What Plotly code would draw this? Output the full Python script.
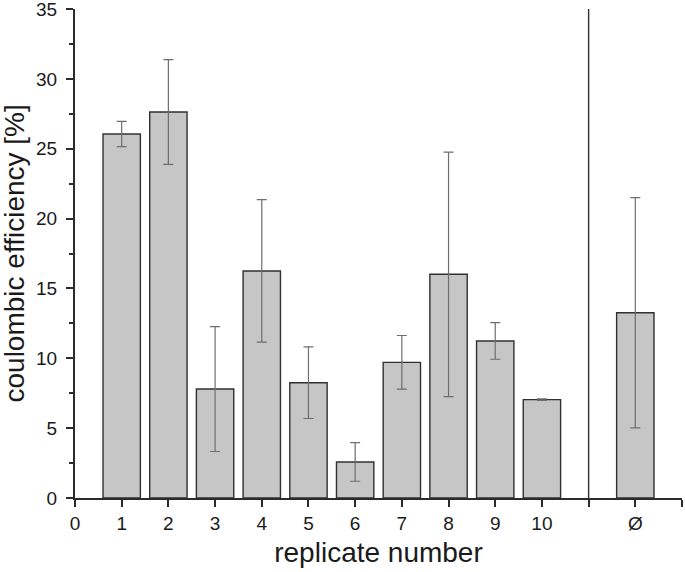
import plotly.graph_objects as go

# replicate bars 1..10 plus the mean bar (Ø) placed after a separator
replicates = [1, 2, 3, 4, 5, 6, 7, 8, 9, 10]
efficiency = [26.05, 27.63, 7.8, 16.25, 8.25, 2.58, 9.71, 16.01, 11.24, 7.04]
efficiency_err = [0.9, 3.75, 4.47, 5.1, 2.56, 1.38, 1.92, 8.75, 1.31, 0.05]

mean_pos = 12
mean_label = "Ø"
mean_value = 13.26
mean_err = 8.24

separator_x = 11

x_ticks = list(range(0, 14))
x_ticktext = [str(v) for v in range(0, 11)] + ["", mean_label, ""]

FONT = "Liberation Sans, Arial, sans-serif"
AXIS_COLOR = "#2b2b2b"

fig = go.Figure()

fig.add_trace(go.Bar(
    x=replicates + [mean_pos],
    y=efficiency + [mean_value],
    width=0.8,
    marker=dict(color="#c6c6c6", line=dict(color="#303030", width=1.4)),
    error_y=dict(
        type="data",
        array=efficiency_err + [mean_err],
        color="#6e6e6e",
        thickness=1.2,
        width=5,
    ),
    cliponaxis=False,
    showlegend=False,
))

# vertical separator between the replicates and the mean
fig.add_shape(
    type="line", xref="x", yref="y",
    x0=separator_x, x1=separator_x, y0=0, y1=35,
    line=dict(color="#303030", width=1.4),
)

# y title as a rotated annotation so it can sit closer to the page edge
fig.add_annotation(
    text="coulombic efficiency [%]",
    textangle=-90,
    xref="paper", yref="paper",
    x=0, y=0.5,
    xanchor="center", yanchor="middle",
    xshift=-61,
    showarrow=False,
    font=dict(size=28),
)

fig.update_layout(
    width=685,
    height=572,
    margin=dict(l=75, r=3, t=9, b=74, autoexpand=False),
    plot_bgcolor="white",
    paper_bgcolor="white",
    font=dict(family=FONT, color="#1a1a1a"),
)

fig.update_xaxes(
    range=[0, 13],
    tickvals=x_ticks,
    ticktext=x_ticktext,
    ticks="outside",
    ticklen=7,
    tickwidth=2,
    tickcolor=AXIS_COLOR,
    showline=True,
    linewidth=2,
    linecolor=AXIS_COLOR,
    showgrid=False,
    zeroline=False,
    automargin=False,
    ticklabeloverflow="allow",
    tickfont=dict(size=19),
    title=dict(text="replicate number", font=dict(size=28), standoff=10),
)

fig.update_yaxes(
    range=[0, 35],
    dtick=5,
    ticks="outside",
    ticklen=7,
    tickwidth=2,
    tickcolor=AXIS_COLOR,
    minor=dict(dtick=2.5, ticks="outside", ticklen=4, tickwidth=2, tickcolor=AXIS_COLOR),
    showline=True,
    linewidth=2,
    linecolor=AXIS_COLOR,
    showgrid=False,
    zeroline=False,
    automargin=False,
    ticklabeloverflow="allow",
    ticklabelstandoff=5,
    tickfont=dict(size=19),
)

# the page's default body margin would shift the figure by 8 px
fig.write_html(
    "out.html",
    config={"displayModeBar": False},
    post_script="document.body.style.margin = '0px';",
)
